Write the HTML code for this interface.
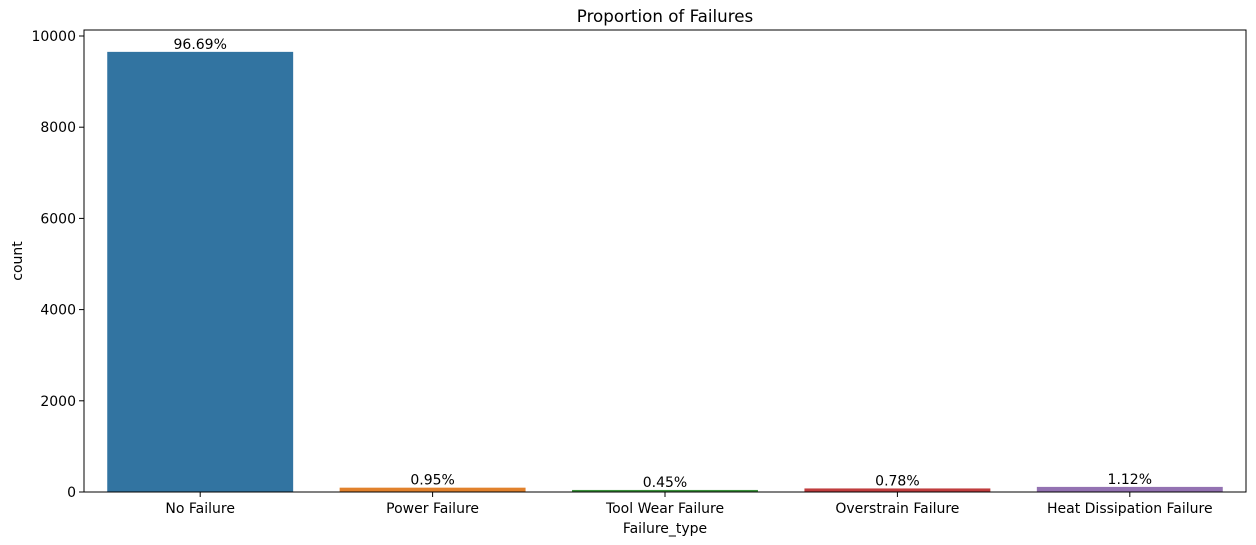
<!DOCTYPE html>
<html>
<head>
<meta charset="utf-8">
<style>
  html,body{margin:0;padding:0;background:#fff;}
  svg{display:block;font-family:"DejaVu Sans","Liberation Sans",sans-serif;}
</style>
</head>
<body>
<svg id="chart" width="1256" height="545" viewBox="0 0 1256 545">
  <rect x="0" y="0" width="1256" height="545" fill="#fff"/>
  <text x="665" y="22" text-anchor="middle" font-size="16.7" fill="#000">Proportion of Failures</text>
  <g id="bars"></g>
  <g id="yticks"></g>
  <g id="xticks"></g>
  <rect x="84" y="30" width="1162" height="462" fill="none" stroke="#000" stroke-width="1"/>
  <text x="665" y="533" text-anchor="middle" font-size="14" fill="#000">Failure_type</text>
  <text transform="translate(22,261) rotate(-90)" text-anchor="middle" font-size="14" fill="#000">count</text>
</svg>
<script>
const categories = ["No Failure","Power Failure","Tool Wear Failure","Overstrain Failure","Heat Dissipation Failure"];
const counts = [9652, 95, 45, 78, 112];
const pctLabels = ["96.69%","0.95%","0.45%","0.78%","1.12%"];
const yTicks = [0, 2000, 4000, 6000, 8000, 10000];
const colors = ["#3274a1","#e1812c","#3a923a","#c03d3e","#9372b2"];

const NS = "http://www.w3.org/2000/svg";
const left = 84, right = 1246, y0px = 492, y10k = 36;
function yScale(v){ return y0px - (y0px - y10k) * v / 10000; }
const band = (right - left) / categories.length;
function xCenter(i){ return left + band * (i + 0.5); }
const barW = band * 0.8;

const bars = document.getElementById("bars");
categories.forEach((c, i) => {
  const r = document.createElementNS(NS, "rect");
  const y = yScale(counts[i]);
  r.setAttribute("x", xCenter(i) - barW / 2);
  r.setAttribute("y", y);
  r.setAttribute("width", barW);
  r.setAttribute("height", y0px - y);
  r.setAttribute("fill", colors[i]);
  
  
  bars.appendChild(r);
  const t = document.createElementNS(NS, "text");
  t.setAttribute("x", xCenter(i));
  t.setAttribute("y", y - 3);
  t.setAttribute("text-anchor", "middle");
  t.setAttribute("font-size", "14");
  t.textContent = pctLabels[i];
  
  
  bars.appendChild(t);
});

const yg = document.getElementById("yticks");
yTicks.forEach(v => {
  const y = yScale(v);
  const l = document.createElementNS(NS, "line");
  l.setAttribute("x1", left - 5); l.setAttribute("x2", left);
  l.setAttribute("y1", y); l.setAttribute("y2", y);
  l.setAttribute("stroke", "#000");
  
  
  yg.appendChild(l);
  const t = document.createElementNS(NS, "text");
  t.setAttribute("x", left - 8);
  t.setAttribute("y", y + 5);
  t.setAttribute("text-anchor", "end");
  t.setAttribute("font-size", "14");
  t.textContent = v;
  
  
  yg.appendChild(t);
});

const xg = document.getElementById("xticks");
categories.forEach((c, i) => {
  const x = xCenter(i);
  const l = document.createElementNS(NS, "line");
  l.setAttribute("x1", x); l.setAttribute("x2", x);
  l.setAttribute("y1", y0px); l.setAttribute("y2", y0px + 5);
  l.setAttribute("stroke", "#000");
  
  
  xg.appendChild(l);
  const t = document.createElementNS(NS, "text");
  t.setAttribute("x", x);
  t.setAttribute("y", y0px + 21);
  t.setAttribute("text-anchor", "middle");
  t.setAttribute("font-size", "14");
  t.textContent = c;
  
  
  xg.appendChild(t);
});
</script>
</body>
</html>
